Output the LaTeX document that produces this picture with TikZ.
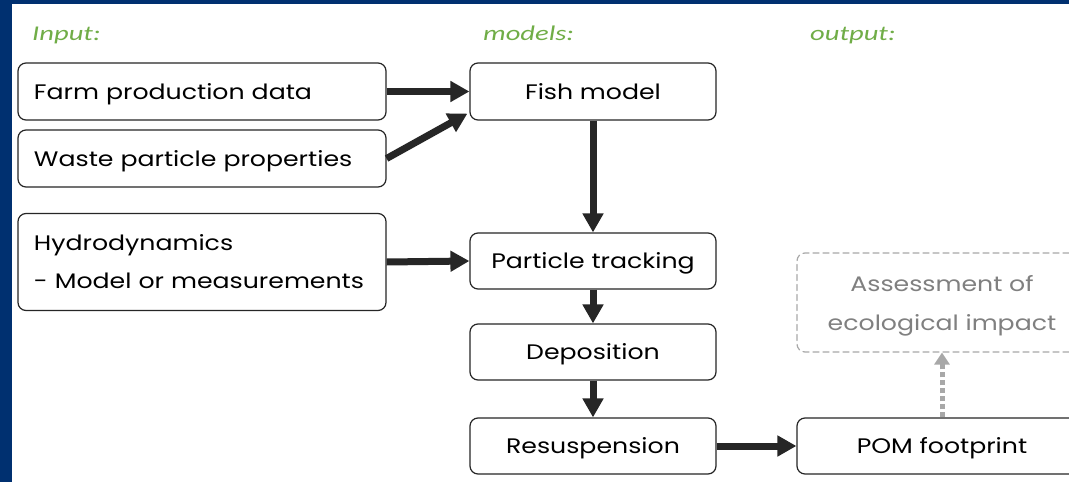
\documentclass[tikz,border=0pt]{standalone}
\usepackage{fontspec}
\setmainfont{Poppins}[FakeStretch=1.2]
\newfontfamily\headfont{Carlito}[FakeStretch=1.36]
\usetikzlibrary{arrows.meta}
\definecolor{qqblue}{rgb}{0.,0.19,0.44}
\definecolor{qqgreen}{rgb}{0.44,0.68,0.28}
\definecolor{qqdark}{rgb}{0.15,0.15,0.15}
\definecolor{qqfade}{rgb}{0.66,0.66,0.66}
\definecolor{qqgrey}{rgb}{0.5,0.5,0.5}

\begin{document}
\begin{tikzpicture}[line cap=round,line join=round,x=1pt,y=-1pt,
  basebox/.style={draw=qqdark,line width=1.2pt,rounded corners=8pt,fill=white,inner sep=0pt,minimum height=57pt,font=\fontsize{21}{25}\selectfont},
  box/.style={basebox,text height=15pt,text depth=0pt},
  inbox/.style={box,minimum width=368pt,text width=336pt,align=left},
  modbox/.style={box,minimum width=246pt,align=center},
  flow/.style={-{Triangle[width=20pt,length=19pt]},line width=7pt,line cap=butt,color=qqdark},
  head/.style={anchor=base west,inner sep=0pt,color=qqgreen,font=\headfont\itshape\fontsize{21}{24}\selectfont}]
\fill[qqblue] (0,0) rectangle (1069,482);
\fill[white] (12,4) rectangle (1069,482);
\useasboundingbox (0,0) rectangle (1069,482);
\clip (0,0) rectangle (1069,482);
% column titles
\node[head] (tin) at (32,40) {Input:};
\node[head] (tmod) at (483,40) {models:};
\node[head] (tout) at (810,40) {output:};
% input boxes
\node[inbox] (farm) at (202,91.5) {Farm production data};
\node[inbox] (waste) at (202,158.5) {Waste particle properties};
\node[basebox,minimum width=368pt,text width=336pt,align=left,minimum height=97pt,font=\fontsize{21}{38}\selectfont] (hydro) at (202,262) {Hydrodynamics\\- Model or measurements};
% model chain
\node[modbox] (fish) at (593,91.5) {Fish model};
\node[modbox,minimum height=56pt] (track) at (593,261) {Particle tracking};
\node[modbox,minimum height=56pt] (depo) at (593,352) {Deposition};
\node[modbox,minimum height=56pt] (resusp) at (593,446) {Resuspension};
% output
\node[box,minimum width=290pt,minimum height=56pt] (pom) at (942,446) {POM footprint};
\node[basebox,draw=qqfade,dash pattern=on 6pt off 4pt,minimum width=290pt,minimum height=99pt,text=qqgrey,align=center,text depth=0pt,font=\fontsize{21}{39}\selectfont] (assess) at (942,302.5) {Assessment of\\ecological impact};
% arrows
\draw[flow] (farm.east) -- (fish.west);
\draw[flow] (waste.east) -- ([xshift=-2pt,yshift=7pt]fish.south west);
\draw[flow] (hydro.east) -- (track.west);
\draw[flow] (fish.south) -- (track.north);
\draw[flow] (track.south) -- (depo.north);
\draw[flow] (depo.south) -- (resusp.north);
\draw[flow] (resusp.east) -- (pom.west);
\draw[-{Triangle[width=15pt,length=12pt]},line width=5pt,line cap=butt,dash pattern=on 5pt off 3pt,color=qqfade] (pom.north) -- (assess.south);
\end{tikzpicture}
\end{document}
